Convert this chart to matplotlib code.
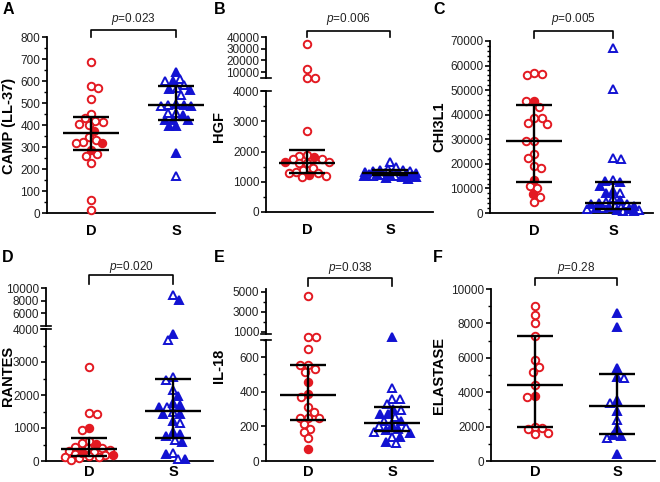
import matplotlib
matplotlib.use("Agg")
import matplotlib.pyplot as plt
import numpy as np
from matplotlib.ticker import MultipleLocator, StrMethodFormatter
from matplotlib.lines import Line2D

plt.rcParams['font.family'] = ['Liberation Sans', 'DejaVu Sans']
plt.rcParams['mathtext.fontset'] = 'custom'
plt.rcParams['mathtext.it'] = 'Liberation Sans:italic'

# ---- data ----
groups = ["D", "S"]

camp_D_open = [688, 577, 570, 517, 449, 430, 415, 420, 405, 400, 347, 332, 324, 317, 268, 259, 226, 59, 14]
camp_D_fill = [373, 317, 286]
camp_S_open = [610, 598, 580, 568, 538, 492, 485, 455, 455, 167]
camp_S_fill = [639, 598, 564, 561, 497, 492, 485, 447, 424, 424, 421, 394, 394, 273]
camp_stats = [(286, 362, 436), (421, 491, 576)]
camp_p = "0.023"

hgf_D_open = [34000, 12500, 5400, 5400, 2690, 1884, 1850, 1741, 1741, 1664, 1609, 1609, 1444, 1388, 1333, 1278, 1278, 1190, 1168]
hgf_D_fill = [1829, 1664, 1223]
hgf_S_open = [1660, 1500, 1420, 1380, 1340, 1300, 1280, 1260, 1240, 1220, 1200, 1180]
hgf_S_fill = [1400, 1360, 1320, 1290, 1270, 1250, 1230, 1210, 1190, 1170, 1150, 1130, 1100]
hgf_stats = [(1300, 1610, 2060), (1220, 1290, 1390)]
hgf_p = "0.006"

chi_D_open = [56600, 56200, 56900, 45400, 43300, 38600, 38600, 36800, 36300, 29100, 29400, 24000, 22300, 19000, 18300, 10800, 10200, 6500, 4300]
chi_D_fill = [45600, 13300, 7700]
chi_S_open = [67300, 50400, 22300, 21900, 13400, 8300, 6000, 4500, 3800, 3000, 2600, 2200, 1700, 1300, 900]
chi_S_fill = [12700, 13000, 11000, 9100, 8000, 5200, 4200, 3500, 2800, 2400, 2000, 1500, 1100, 700]
chi_stats = [(12700, 29300, 43900), (1500, 4200, 12800)]
chi_p = "0.005"

ran_D_open = [2857, 1459, 1429, 939, 612, 535, 420, 384, 384, 333, 300, 260, 203, 182, 150, 130, 130, 100, 40]
ran_D_fill = [990, 505, 232, 170]
ran_S_open = [8900, 3673, 2551, 2449, 2143, 1633, 1480, 1143, 643, 255, 71]
ran_S_fill = [8140, 3847, 1959, 1755, 1684, 1633, 1430, 1429, 1204, 867, 816, 765, 561, 204, 51]
ran_stats = [(160, 350, 700), (700, 1520, 2470)]
ran_p = "0.020"

il_D_open = [4600, 715, 715, 648, 554, 552, 533, 513, 369, 312, 283, 250, 250, 250, 212, 187, 167, 131]
il_D_fill = [456, 385, 67]
il_S_open = [423, 360, 358, 327, 294, 256, 230, 200, 198, 165, 140, 102]
il_S_fill = [715, 300, 269, 269, 230, 208, 185, 179, 160, 140, 110]
il_stats = [(235, 379, 552), (175, 222, 310)]
il_p = "0.038"

ela_D_open = [9033, 8511, 8027, 7253, 5861, 5474, 5164, 4410, 3714, 1992, 1838, 1915, 1547, 1644]
ela_D_fill = [3752]
ela_S_open = [4797, 3346, 2360, 1315]
ela_S_fill = [8607, 7795, 5416, 4893, 3520, 2901, 1896, 1451, 1509, 426]
ela_stats = [(1960, 4410, 7250), (1560, 3180, 5080)]
ela_p = "0.28"

W, H = 660, 482
RED = '#e31a22'
BLUE = '#1212d2'
fig = plt.figure(figsize=(6.6, 4.82), dpi=100)


def swarm(ypx, d, maxw):
    # simple beeswarm in pixel space, width capped at maxw (overlap allowed past it)
    order = np.argsort(-ypx)
    placed = []
    xs = np.zeros(len(ypx))
    total = 0.0
    for i in order:
        y = ypx[i]
        near = [(px, py) for px, py in placed if abs(py - y) < d]
        cands = [0.0]
        for px, py in near:
            dx = np.sqrt(d * d - (py - y) ** 2)
            cands += [px + dx, px - dx]
        cands = [c for c in cands if abs(c) <= maxw]
        s = 1 if total > 0 else -1
        cands.sort(key=lambda c: (round(abs(c), 1), s * c))
        ok = [c for c in cands
              if all((c - px) ** 2 + (y - py) ** 2 >= d * d - 1e-6 for px, py in near)]
        if ok:
            xs[i] = ok[0]
        else:
            grid = np.linspace(-maxw, maxw, 41)
            dist = [min((c - px) ** 2 + (y - py) ** 2 for px, py in near) for c in grid]
            xs[i] = grid[int(np.argmax(dist))]
        total += xs[i]
        placed.append((xs[i], y))
    return xs


def panel(left, right, xD, xS, bottom, segs, data, stats, pval, brk_y, txt_y,
          letter, letter_xy, ylabel, ylabel_xy, xpad, maxw):
    # segs: list of (ylim, top_px, bottom_px, ticks, minor), lowest first
    k = float(xS - xD)
    xlim = (-(xD - left) / k, 1 + (right - xS) / k)
    axes = []
    for j, (ylim, tpx, bpx, ticks, minor) in enumerate(segs):
        ax = fig.add_axes([left / W, 1 - bpx / H, (right - left) / W, (bpx - tpx) / H])
        ax.set_xlim(xlim)
        ax.set_ylim(ylim)
        ax.set_yticks(ticks)
        ax.yaxis.set_major_formatter(StrMethodFormatter('{x:.0f}'))
        if minor:
            ax.yaxis.set_minor_locator(MultipleLocator(minor))
        ax.patch.set_visible(False)
        for s in ['top', 'right']:
            ax.spines[s].set_visible(False)
        ax.spines['left'].set_linewidth(1.3)
        ax.spines['bottom'].set_linewidth(1.3)
        ax.tick_params(axis='y', which='major', length=3.8, width=1.2, pad=1,
                       labelsize=8.5, labelcolor='#222222')
        ax.tick_params(axis='y', which='minor', length=2.2, width=1.0)
        if j == 0:
            ax.set_xticks([0, 1])
            ax.set_xticklabels(groups, fontsize=10.5, fontweight='bold')
            ax.tick_params(axis='x', length=0, pad=xpad)
        else:
            ax.spines['bottom'].set_visible(False)
            ax.set_xticks([])
        axes.append(ax)

    # break marks
    for j in range(len(segs) - 1):
        for ypx in (segs[j][1], segs[j + 1][2]):
            fig.add_artist(Line2D([(left - 5) / W, (left + 5) / W], [1 - ypx / H] * 2,
                                  color='black', lw=1.2))

    def seg_of(v):
        j = 0
        for i, s in enumerate(segs):
            if v >= s[0][0]:
                j = i
        return j

    for g, (vals_open, vals_fill, color, mk, ms) in enumerate(data):
        vals = list(vals_open) + list(vals_fill)
        filled = [False] * len(vals_open) + [True] * len(vals_fill)
        sj = [seg_of(v) for v in vals]
        ypx = np.array([axes[s].transData.transform((0, v))[1] for s, v in zip(sj, vals)])
        xoff = swarm(ypx, 7.6, maxw[g])
        for v, f, s, xo in zip(vals, filled, sj, xoff):
            axes[s].plot(g + xo / k, v, marker=mk, ls='none', ms=ms, mew=1.4,
                         mec=color, mfc=color if f else 'white', clip_on=False, zorder=3)
        q1, med, q3 = stats[g]
        ax = axes[0]
        kw = dict(color='black', lw=1.7, zorder=5, clip_on=False, solid_capstyle='butt')
        ax.plot([g - 28 / k, g + 28 / k], [med, med], **kw)
        ax.plot([g - 18 / k, g + 18 / k], [q1, q1], **kw)
        ax.plot([g - 18 / k, g + 18 / k], [q3, q3], **kw)
        ax.plot([g, g], [q1, q3], **kw)

    # p-value bracket
    y0, y1 = 1 - brk_y[0] / H, 1 - brk_y[1] / H
    fig.add_artist(Line2D([xD / W, xD / W, xS / W, xS / W], [y1, y0, y0, y1],
                          color='black', lw=1.2))
    fig.text((xD + xS) / 2 / W, 1 - txt_y / H, r'$\mathit{p}$=' + pval,
             ha='center', va='center', fontsize=8.5, color='#222222')
    fig.text(letter_xy[0] / W, 1 - letter_xy[1] / H, letter, fontsize=11.5,
             fontweight='bold', ha='left', va='top')
    fig.text(ylabel_xy[0] / W, 1 - ylabel_xy[1] / H, ylabel, fontsize=10.5,
             fontweight='bold', rotation=90, ha='center', va='center')
    return axes


red_c = lambda o, f: (o, f, RED, 'o', 5.4)
blue_t = lambda o, f: (o, f, BLUE, '^', 6.0)

panel(47, 215, 91, 176, 213,
      [((0, 800), 37, 213, range(0, 801, 100), 50)],
      [red_c(camp_D_open, camp_D_fill), blue_t(camp_S_open, camp_S_fill)],
      camp_stats, camp_p, (30, 37), 19, 'A', (3, 2), 'CAMP (LL-37)', (9, 126),
      8, (21, 22))

panel(266, 433, 307, 390, 212,
      [((0, 4000), 91, 212, range(0, 4001, 1000), 500),
       ((5000, 40000), 37, 78, [10000, 20000, 30000, 40000], None)],
      [red_c(hgf_D_open, hgf_D_fill), blue_t(hgf_S_open, hgf_S_fill)],
      hgf_stats, hgf_p, (31, 37), 19, 'B', (214, 2), 'HGF', (219, 127),
      8, (22, 26))

panel(490, 653, 534, 613, 213,
      [((0, 70000), 41, 213, range(0, 70001, 10000), 2000)],
      [red_c(chi_D_open, chi_D_fill), blue_t(chi_S_open, chi_S_fill)],
      chi_stats, chi_p, (31, 38), 19, 'C', (433, 2), 'CHI3L1', (439, 127),
      8, (18, 26))

panel(46, 213, 89, 173, 461,
      [((0, 4000), 329, 461, range(0, 4001, 1000), 500),
       ((4000, 10000), 288, 326, [6000, 8000, 10000], None)],
      [red_c(ran_D_open, ran_D_fill), blue_t(ran_S_open, ran_S_fill)],
      ran_stats, ran_p, (275, 284), 267, 'D', (2, 250), 'RANTES', (8, 376),
      3, (24, 22))

panel(266, 433, 308, 392, 461,
      [((0, 700), 339.7, 461, [0, 200, 400, 600], 100),
       ((800, 5300), 288.7, 333.7, [1000, 3000, 5000], 1000)],
      [red_c(il_D_open, il_D_fill), blue_t(il_S_open, il_S_fill)],
      il_stats, il_p, (278, 286), 268, 'E', (214, 250), 'IL-18', (219, 366),
      3, (20, 22))

panel(491, 655, 535, 617, 461,
      [((0, 10000), 289, 461, range(0, 10001, 2000), 1000)],
      [red_c(ela_D_open, ela_D_fill), blue_t(ela_S_open, ela_S_fill)],
      ela_stats, ela_p, (278, 285), 268, 'F', (433, 250), 'ELASTASE', (439, 376),
      3, (20, 22))

fig.savefig("out.png", dpi=100)
